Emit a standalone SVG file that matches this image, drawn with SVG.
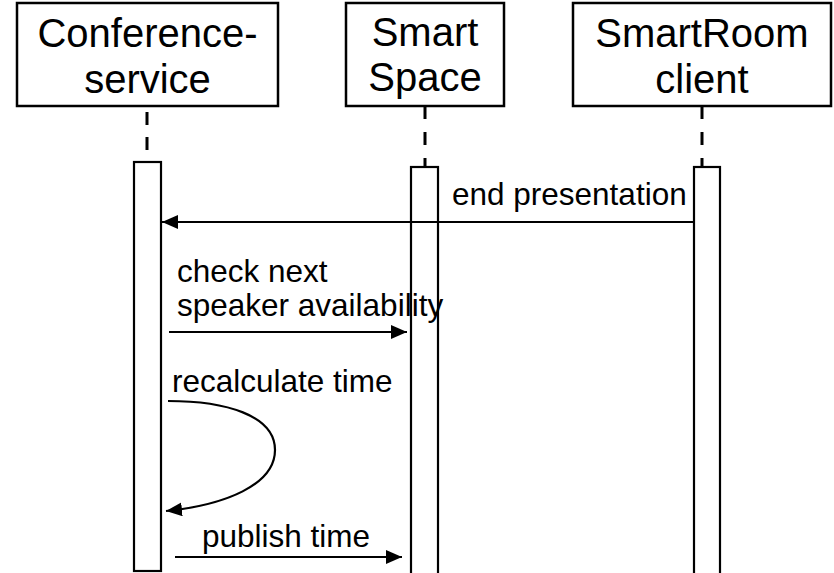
<svg xmlns="http://www.w3.org/2000/svg" width="834" height="573" viewBox="0 0 834 573">
  <style>
    .box { fill: #fff; stroke: #000; stroke-width: 2.5; }
    .act { fill: #fff; stroke: #000; stroke-width: 2.2; }
    .life { stroke: #000; stroke-width: 3; stroke-dasharray: 13 12; fill: none; }
    .title { font-family: "Liberation Sans", Arial, sans-serif; font-size: 40px; fill: #000; text-anchor: middle; }
    .msg { stroke: #000; stroke-width: 2.2; fill: none; }
    .lbl { font-family: "Liberation Sans", Arial, sans-serif; font-size: 31.5px; fill: #000; }
  </style>
  <defs>
    <marker id="arrow" markerUnits="userSpaceOnUse" markerWidth="17" markerHeight="14" refX="16" refY="7" orient="auto">
      <path d="M0,0 L16,7 L0,14 z" fill="#000"/>
    </marker>
  </defs>

  <rect width="834" height="573" fill="#fff"/>

  <g id="conference-service">
    <rect class="box" x="17" y="3" width="261" height="103"/>
    <text class="title" x="147.5" y="47">Conference-</text>
    <text class="title" x="147.5" y="93">service</text>
    <line class="life" x1="147" y1="112" x2="147" y2="161"/>
    <rect class="act" x="134" y="162" width="27" height="409"/>
  </g>

  <g id="smart-space">
    <rect class="box" x="346" y="3" width="158" height="103"/>
    <text class="title" x="425" y="46">Smart</text>
    <text class="title" x="425" y="91">Space</text>
    <line class="life" x1="425" y1="106" x2="425" y2="167" style="stroke-dasharray:13 13"/>
    <rect class="act" x="411" y="167" width="27" height="420"/>
  </g>

  <g id="smartroom-client">
    <rect class="box" x="573" y="3" width="258" height="103"/>
    <text class="title" x="702" y="47">SmartRoom</text>
    <text class="title" x="702" y="93">client</text>
    <line class="life" x1="702" y1="106" x2="702" y2="167" style="stroke-dasharray:13 13"/>
    <rect class="act" x="694" y="167" width="26" height="420"/>
  </g>

  <g id="connectors">
    <line class="msg" x1="693" y1="222" x2="162" y2="222" marker-end="url(#arrow)"/>
    <text class="lbl" x="452" y="205">end presentation</text>

    <line class="msg" x1="169" y1="332" x2="407" y2="332" marker-end="url(#arrow)"/>
    <text class="lbl" x="177" y="282">check next</text>
    <text class="lbl" x="177" y="316">speaker availability</text>

    <path class="msg" d="M168,401 C225,401 275,415 275,450 C275,485 225,505 166,511" marker-end="url(#arrow)"/>
    <text class="lbl" x="172" y="392">recalculate time</text>

    <line class="msg" x1="175" y1="557" x2="402" y2="557" marker-end="url(#arrow)"/>
    <text class="lbl" x="202" y="547">publish time</text>
  </g>
</svg>
